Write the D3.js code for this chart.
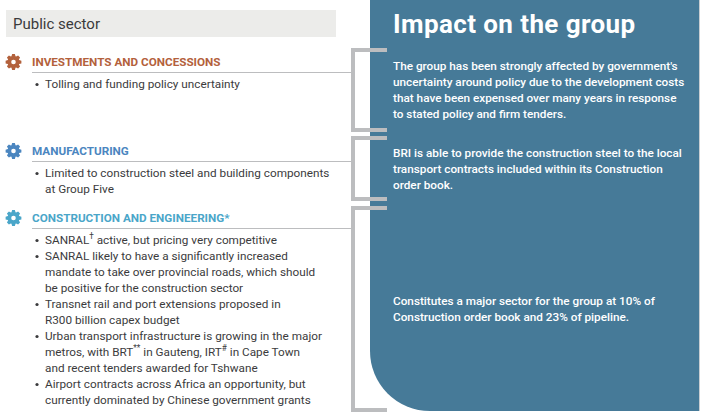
<!DOCTYPE html>
<html>
<head>
<meta charset="utf-8">
<script src="https://cdn.jsdelivr.net/npm/d3@7/dist/d3.min.js"></script>
<style>
  html, body { margin: 0; padding: 0; background: #ffffff; }
  svg { display: block; }
</style>
</head>
<body>
<svg id="chart" width="708" height="418"></svg>
<script>
// ---------- DATA ----------
const headerLabel = "Public sector";
const panelTitle = "Impact on the group";
const sectionTitles = [
  "INVESTMENTS AND CONCESSIONS",
  "MANUFACTURING",
  "CONSTRUCTION AND ENGINEERING*"
];
const sectionColors = ["#b3613c", "#4b86c0", "#4aa6c9"];
const sectionBullets = [
  [["Tolling and funding policy uncertainty"]],
  [["Limited to construction steel and building components", "at Group Five"]],
  [
    ["SANRAL^†^ active, but pricing very competitive"],
    ["SANRAL likely to have a significantly increased",
     "mandate to take over provincial roads, which should",
     "be positive for the construction sector"],
    ["Transnet rail and port extensions proposed in",
     "R300 billion capex budget"],
    ["Urban transport infrastructure is growing in the major",
     "metros, with BRT^**^ in Gauteng, IRT^#^ in Cape Town",
     "and recent tenders awarded for Tshwane"],
    ["Airport contracts across Africa an opportunity, but",
     "currently dominated by Chinese government grants"]
  ]
];
const impactTexts = [
  ["The group has been strongly affected by government's",
   "uncertainty around policy due to the development costs",
   "that have been expensed over many years in response",
   "to stated policy and firm tenders."],
  ["BRI is able to provide the construction steel to the local",
   "transport contracts included within its Construction",
   "order book."],
  ["Constitutes a major sector for the group at 10% of",
   "Construction order book and 23% of pipeline."]
];

// ---------- LAYOUT ----------
const W = 708, H = 418;
const bracketTop = [50, 138, 208];
const bracketBottom = [130, 199, 410];
const headerY = [62, 151, 218];
const lineH = 16;
const panel = { x0: 370, x1: 699, y1: 411, r: 60 };
const bracketX = 353, bracketEnd = 387;
const grey = "#bcbdbf";
const textCol = "#3b3b3d";
const font = "Roboto, 'DejaVu Sans', sans-serif";

const svg = d3.select("#chart");

// Header box
svg.append("rect").attr("x", 6).attr("y", 10).attr("width", 330).attr("height", 27)
  .attr("fill", "#ececea");
svg.append("text").attr("x", 13).attr("y", 23.5).attr("dy", "0.35em")
  .attr("font-family", font).attr("font-size", 15).attr("fill", "#3a3a3c")
  .text(headerLabel);

// Panel
const pPath = d3.path();
pPath.moveTo(panel.x0, 0);
pPath.lineTo(panel.x1, 0);
pPath.lineTo(panel.x1, panel.y1);
pPath.lineTo(panel.x0 + panel.r, panel.y1);
pPath.arcTo(panel.x0, panel.y1, panel.x0, panel.y1 - panel.r, panel.r);
pPath.closePath();
svg.append("path").attr("d", pPath.toString()).attr("fill", "#467a98");
svg.append("line").attr("x1", panel.x1 + 0.5).attr("x2", panel.x1 + 0.5)
  .attr("y1", 0).attr("y2", panel.y1).attr("stroke", "#c9ced2").attr("stroke-width", 1);

svg.append("text").attr("x", 393).attr("y", 24).attr("dy", "0.35em")
  .attr("font-family", font).attr("font-weight", 700).attr("font-size", 26)
  .attr("letter-spacing", 0.4)
  .attr("fill", "#ffffff").text(panelTitle);

// helper: write a line with ^sup^ markup
function writeLine(sel, str) {
  const parts = str.split("^");
  parts.forEach((p, i) => {
    if (!p) return;
    const t = sel.append("tspan").text(p);
    if (i % 2 === 1) t.attr("baseline-shift", "super").attr("font-size", "70%");
  });
}

// Gear generator
function gearPath(rOut, rIn, teeth) {
  const pts = [];
  const step = Math.PI * 2 / teeth;
  for (let i = 0; i < teeth; i++) {
    const a = i * step;
    const tw = step * 0.22;
    pts.push([a - step / 2 + tw * 0.3, rIn]);
    pts.push([a - tw, rOut]);
    pts.push([a + tw, rOut]);
    pts.push([a + step / 2 - tw * 0.3, rIn]);
  }
  const lr = d3.lineRadial().angle(d => d[0]).radius(d => d[1]).curve(d3.curveLinearClosed);
  return lr(pts);
}

sectionTitles.forEach((title, s) => {
  const col = sectionColors[s];
  const hy = headerY[s];
  // gear
  const gg = svg.append("g").attr("transform", `translate(13.5,${hy})`);
  gg.append("path").attr("d", gearPath(8, 6, 8)).attr("fill", col);
  gg.append("circle").attr("r", 2.3).attr("fill", "#ffffff");
  // title
  svg.append("text").attr("x", 32).attr("y", hy).attr("dy", "0.35em")
    .attr("font-family", font).attr("font-weight", 700).attr("font-size", 11.7)
    .attr("fill", col).text(title);
  // underline / connector
  svg.append("line").attr("x1", 32).attr("x2", bracketX)
    .attr("y1", hy + 10.5).attr("y2", hy + 10.5)
    .attr("stroke", grey).attr("stroke-width", 1);
  // bullets
  let ly = hy + 22;
  sectionBullets[s].forEach(bullet => {
    svg.append("circle").attr("cx", 37).attr("cy", ly + 0.5).attr("r", 1.6).attr("fill", textCol);
    bullet.forEach(line => {
      const t = svg.append("text").attr("x", 45).attr("y", ly).attr("dy", "0.35em")
        .attr("font-family", font).attr("font-size", 11.75).attr("fill", textCol);
      writeLine(t, line);
      ly += lineH;
    });
  });
  // bracket
  const bp = d3.path();
  bp.moveTo(bracketEnd, bracketTop[s]);
  bp.lineTo(bracketX, bracketTop[s]);
  bp.lineTo(bracketX, bracketBottom[s]);
  bp.lineTo(bracketEnd, bracketBottom[s]);
  svg.append("path").attr("d", bp.toString()).attr("fill", "none")
    .attr("stroke", grey).attr("stroke-width", 4);
  // impact paragraph, centered vertically on bracket
  const lines = impactTexts[s];
  const mid = (bracketTop[s] + bracketBottom[s]) / 2;
  const y0 = mid - (lines.length - 1) * lineH / 2;
  lines.forEach((line, i) => {
    svg.append("text").attr("x", 393).attr("y", y0 + i * lineH).attr("dy", "0.35em")
      .attr("font-family", font).attr("font-weight", 500).attr("font-size", 11.75)
      .attr("fill", "#ffffff").text(line);
  });
});
</script>
</body>
</html>
